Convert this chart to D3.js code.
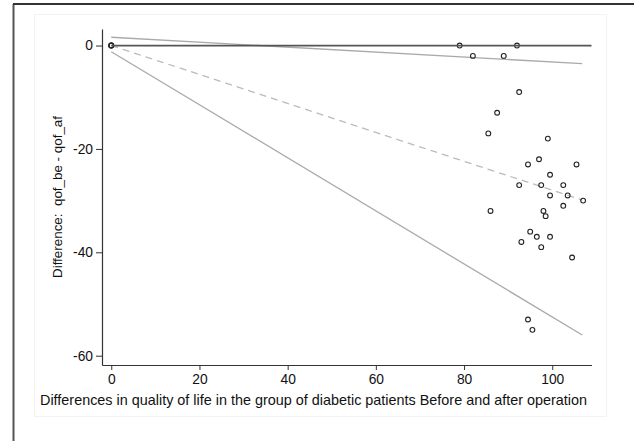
<!DOCTYPE html>
<html>
<head>
    <meta charset="utf-8">
    <script src="https://d3js.org/d3.v7.min.js"></script>
    <style>
        body { margin: 0; background: #fff; }
        text { font-family: "Liberation Sans", Arial, sans-serif; fill: #111; }
    </style>
</head>
<body>
    <div id="chart"></div>
    <script>
        // scatter points (x = difference in quality of life, y = qof_be - qof_af)
        var xs = [0, 0, 0, 79, 92, 82, 89, 92.5, 87.5, 85.5, 99, 97, 94.5, 105.5, 99.5, 92.5, 97.5, 102.5,
            99.5, 103.5, 107, 102.5, 86, 98, 98.5, 95, 96.5, 99.5, 93, 97.5, 104.5, 94.5, 95.5];
        var ys = [0, 0, 0, 0, 0, -2, -2, -9, -13, -17, -18, -22, -23, -23, -25, -27, -27, -27,
            -29, -29, -30, -31, -32, -32, -33, -36, -37, -37, -38, -39, -41, -53, -55];

        // reference lines: [x0, y0, x1, y1]
        var zeroLine = [0, 0, 108.9, 0];
        var meanLine = [0, 0, 106.8, -29.9];
        var upperLine = [0, 1.6, 106.8, -3.5];
        var lowerLine = [0, -1.2, 106.8, -56.0];

        var xTicks = [0, 20, 40, 60, 80, 100];
        var yTicks = [0, -20, -40, -60];

        var width = 634, height = 441;
        var svg = d3.select("#chart").append("svg")
            .attr("width", width)
            .attr("height", height);

        // outer frame (left + top edges) and faint inner box
        svg.append("line").attr("x1", 13.5).attr("y1", 4).attr("x2", 13.5).attr("y2", height)
            .attr("stroke", "#555").attr("stroke-width", 2);
        svg.append("line").attr("x1", 13).attr("y1", 4).attr("x2", width).attr("y2", 4)
            .attr("stroke", "#333").attr("stroke-width", 2);
        svg.append("rect").attr("x", 34.5).attr("y", 14.5).attr("width", 572).attr("height", 402)
            .attr("fill", "none").attr("stroke", "#f3f3f3");

        var x = d3.scaleLinear().domain([-2.1, 108.9]).range([102, 591.5]);
        var y = d3.scaleLinear().domain([3.2, -61.8]).range([29, 365]);

        var fmt = function (d) { return String(d); };

        // axes
        var gx = svg.append("g").attr("transform", "translate(0," + 365 + ")")
            .call(d3.axisBottom(x).tickValues(xTicks).tickFormat(fmt).tickSize(5).tickPadding(4).tickSizeOuter(0));
        var gy = svg.append("g").attr("transform", "translate(" + 102 + ",0)")
            .call(d3.axisLeft(y).tickValues(yTicks).tickFormat(fmt).tickSize(6).tickPadding(3).tickSizeOuter(0));
        [gx, gy].forEach(function (g) {
            g.select(".domain").attr("stroke", "#333").attr("stroke-width", 1.2);
            g.selectAll(".tick line").attr("stroke", "#333");
            g.selectAll("text").attr("font-size", 13.8)
                .attr("font-family", "Liberation Sans, Arial, sans-serif").attr("fill", "#111");
        });

        // reference lines
        function refLine(l, color, w, dash) {
            svg.append("line")
                .attr("x1", x(l[0])).attr("y1", y(l[1]))
                .attr("x2", x(l[2])).attr("y2", y(l[3]))
                .attr("stroke", color).attr("stroke-width", w)
                .attr("stroke-dasharray", dash || null);
        }
        refLine(upperLine, "#aaa", 1.3);
        refLine(lowerLine, "#aaa", 1.3);
        refLine(meanLine, "#bbb", 1.3, "7,5");

        // points
        svg.append("g").selectAll("circle")
            .data(d3.range(xs.length))
            .join("circle")
            .attr("cx", function (i) { return x(xs[i]); })
            .attr("cy", function (i) { return y(ys[i]); })
            .attr("r", 2.4)
            .attr("fill", "none")
            .attr("stroke", "#222")
            .attr("stroke-width", 1.1);

        refLine(zeroLine, "#555", 1.8);

        // titles
        svg.append("text")
            .attr("x", 313.5).attr("y", 405)
            .attr("text-anchor", "middle")
            .attr("font-size", 14.4)
            .text("Differences in quality of life in the group of diabetic patients Before and after operation");
        svg.append("text")
            .attr("transform", "translate(62,197) rotate(-90)")
            .attr("text-anchor", "middle")
            .attr("font-size", 13.4)
            .style("white-space", "pre")
            .text("Difference:  qof_be - qof_af");
    </script>
</body>
</html>
